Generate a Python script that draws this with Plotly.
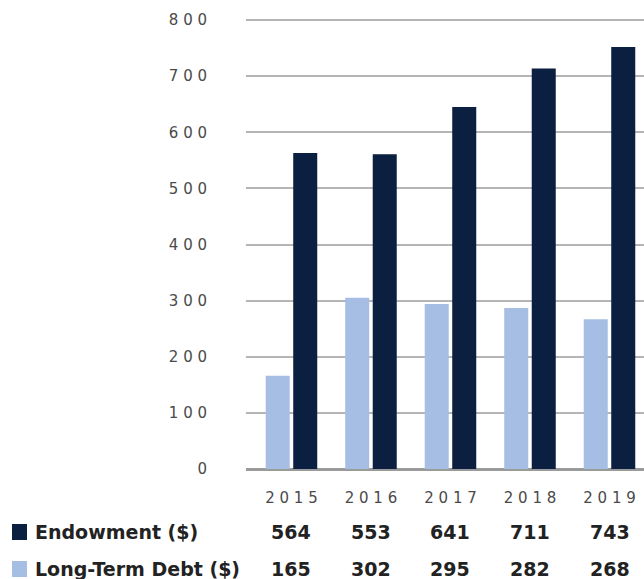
import plotly.graph_objects as go

# ---- data ----
years = ["2015", "2016", "2017", "2018", "2019"]
# bar heights as drawn in the chart
endowment_bars = [563, 561, 645, 714, 752]
debt_bars = [166, 305, 294, 287, 267]
# values printed in the table under the chart
endowment_table = [564, 553, 641, 711, 743]
debt_table = [165, 302, 295, 282, 268]
y_ticks = [0, 100, 200, 300, 400, 500, 600, 700, 800]

DARK = "#0b1f40"
LIGHT = "#a6bee3"
W, H = 644, 579
ML, MR, MT, MB = 246, 0, 19, 110


def spaced(s):
    return " ".join(list(s))


fig = go.Figure()
fig.add_trace(go.Bar(x=years, y=debt_bars, name="Long-Term Debt ($)",
                     marker=dict(color=LIGHT, line=dict(width=0))))
fig.add_trace(go.Bar(x=years, y=endowment_bars, name="Endowment ($)",
                     marker=dict(color=DARK, line=dict(width=0))))

tick_font = dict(family="DejaVu Sans", size=15, color="#4a4a4a")

fig.update_layout(
    width=W, height=H,
    margin=dict(l=ML, r=MR, t=MT, b=MB, pad=0),
    paper_bgcolor="white", plot_bgcolor="white",
    barmode="group", bargap=0.308, bargroupgap=0.127,
    showlegend=False,
    xaxis=dict(
        type="category", range=[-0.572, 4.434],
        tickvals=years, ticktext=[spaced(y) for y in years],
        ticks="", showgrid=False, showline=False, zeroline=False,
        tickfont=tick_font, ticklabelstandoff=18,
    ),
    yaxis=dict(
        range=[0, 802], tickvals=y_ticks,
        ticktext=[spaced(str(v)) for v in y_ticks],
        ticks="", showgrid=True, gridcolor="#b5b5b5", gridwidth=1.5,
        zeroline=True, zerolinecolor="#9a9a9a", zerolinewidth=3,
        showline=False, tickfont=tick_font, ticklabelstandoff=38,
    ),
)

plot_w = W - ML - MR
plot_h = H - MT - MB


def px_x(x):
    return (x - ML) / plot_w


def px_y(y):
    return (H - MB - y) / plot_h


rows = [("Endowment ($)", endowment_table, DARK, 532),
        ("Long-Term Debt ($)", debt_table, LIGHT, 569)]

for label, vals, color, ypix in rows:
    fig.add_shape(type="rect", xref="paper", yref="paper",
                  x0=px_x(12), x1=px_x(27), y0=px_y(ypix + 8), y1=px_y(ypix - 8),
                  fillcolor=color, line=dict(width=0), layer="above")
    fig.add_annotation(xref="paper", yref="paper", x=px_x(33), y=px_y(ypix),
                       xanchor="left", yanchor="middle", showarrow=False,
                       text="<b>" + label + "</b>",
                       font=dict(family="DejaVu Sans", size=19, color="#222222"))
    for i, v in enumerate(vals):
        fig.add_annotation(xref="x", yref="paper", x=i, y=px_y(ypix),
                           xanchor="center", yanchor="middle", showarrow=False,
                           text="<b>" + str(v) + "</b>",
                           font=dict(family="DejaVu Sans", size=19, color="#222222"))

fig.write_html("out.html")
